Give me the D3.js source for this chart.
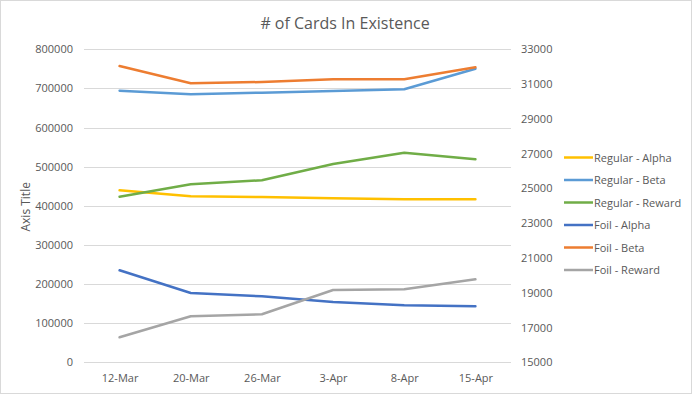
<!DOCTYPE html>
<html>
<head>
<meta charset="utf-8">
<script src="https://cdn.jsdelivr.net/npm/d3@7"></script>
<style>
  body { margin: 0; background: #fff; }
  svg { display: block; font-family: "Open Sans", "Liberation Sans", sans-serif; }
</style>
</head>
<body>
<div id="chart"></div>
<script>
// Data
const dates = ['12-Mar', '20-Mar', '26-Mar', '3-Apr', '8-Apr', '15-Apr'];
const leftTicks = [0, 100000, 200000, 300000, 400000, 500000, 600000, 700000, 800000];
const rightTicks = [15000, 17000, 19000, 21000, 23000, 25000, 27000, 29000, 31000, 33000];

// primary axis (left)
const regularAlpha = [439600, 424300, 422500, 419200, 416600, 416600];
const regularBeta = [694200, 685000, 689100, 693400, 697800, 750400];
const regularReward = [423300, 455000, 465200, 506800, 535700, 518800];
// secondary axis (right)
const foilAlpha = [20290, 18985, 18796, 18468, 18278, 18220];
const foilBeta = [32040, 31045, 31120, 31275, 31275, 31965];
const foilReward = [16438, 17645, 17760, 19158, 19198, 19773];

const seriesNames = ['Regular - Alpha', 'Regular - Beta', 'Regular - Reward', 'Foil - Alpha', 'Foil - Beta', 'Foil - Reward'];
const seriesColors = ['#FFC000', '#5B9BD5', '#70AD47', '#4472C4', '#ED7D31', '#A5A5A5'];

const W = 692, H = 394;
const plot = { left: 84, right: 511, top: 49.3, bottom: 362.3 };

const svg = d3.select('#chart').append('svg')
  .attr('width', W)
  .attr('height', H);

// chart border
svg.append('rect')
  .attr('x', 0.5).attr('y', 0.5)
  .attr('width', W - 1).attr('height', H - 1)
  .attr('fill', '#fff')
  .attr('stroke', '#d9d9d9');

// Scales
const x = d3.scalePoint()
  .domain(dates)
  .range([plot.left, plot.right])
  .padding(0.5);

const yLeft = d3.scaleLinear()
  .domain([0, 800000])
  .range([plot.bottom, plot.top]);

const yRight = d3.scaleLinear()
  .domain([15000, 33000])
  .range([plot.bottom, plot.top]);

// Title
svg.append('text')
  .attr('x', 345)
  .attr('y', 29)
  .attr('text-anchor', 'middle')
  .style('font-size', '16px')
  .style('fill', '#595959')
  .text('# of Cards In Existence');

// Gridlines
svg.append('g')
  .selectAll('line')
  .data(leftTicks)
  .enter()
  .append('line')
  .attr('x1', plot.left)
  .attr('x2', plot.right)
  .attr('y1', d => Math.round(yLeft(d)) + 0.5)
  .attr('y2', d => Math.round(yLeft(d)) + 0.5)
  .attr('stroke', '#d9d9d9')
  .attr('stroke-width', 1);

const tickFont = '"Open Sans", "Liberation Sans", sans-serif';

// Left axis
const leftAxis = svg.append('g')
  .attr('transform', `translate(${plot.left - 11},0)`)
  .call(d3.axisLeft(yLeft).tickValues(leftTicks).tickSize(0).tickFormat(d3.format('d')));
leftAxis.select('.domain').remove();
leftAxis.selectAll('text')
  .attr('x', 0)
  .style('font-size', '11px')
  .style('fill', '#595959')
  .style('font-family', tickFont);

// Right axis
const rightAxis = svg.append('g')
  .attr('transform', `translate(${plot.right + 10},0)`)
  .call(d3.axisRight(yRight).tickValues(rightTicks).tickSize(0).tickFormat(d3.format('d')));
rightAxis.select('.domain').remove();
rightAxis.selectAll('text')
  .attr('x', 0)
  .style('font-size', '11px')
  .style('fill', '#595959')
  .style('font-family', tickFont);

// Bottom axis
const bottomAxis = svg.append('g')
  .attr('transform', `translate(0,${plot.bottom})`)
  .call(d3.axisBottom(x).tickSize(0));
bottomAxis.select('.domain').remove();
bottomAxis.selectAll('text')
  .attr('dy', '1.55em')
  .style('font-size', '11px')
  .style('fill', '#595959')
  .style('font-family', tickFont);

// Axis title
svg.append('text')
  .attr('transform', `translate(30,${(plot.top + plot.bottom) / 2 + 1}) rotate(-90)`)
  .attr('text-anchor', 'middle')
  .style('font-size', '12px')
  .style('fill', '#595959')
  .text('Axis Title');

// Lines
const series = [
  { name: seriesNames[0], values: regularAlpha, y: yLeft },
  { name: seriesNames[1], values: regularBeta, y: yLeft },
  { name: seriesNames[2], values: regularReward, y: yLeft },
  { name: seriesNames[3], values: foilAlpha, y: yRight },
  { name: seriesNames[4], values: foilBeta, y: yRight },
  { name: seriesNames[5], values: foilReward, y: yRight }
];

series.forEach((s, i) => {
  const line = d3.line()
    .x((d, j) => x(dates[j]))
    .y(d => s.y(d));
  svg.append('path')
    .datum(s.values)
    .attr('d', line)
    .attr('fill', 'none')
    .attr('stroke', seriesColors[i])
    .attr('stroke-width', 2.5)
    .attr('stroke-linejoin', 'round')
    .attr('stroke-linecap', 'round');
});

// Legend
const legend = svg.append('g')
  .attr('transform', 'translate(564,157.5)');

const legendItems = legend.selectAll('.legend-item')
  .data(seriesNames)
  .enter()
  .append('g')
  .attr('class', 'legend-item')
  .attr('transform', (d, i) => `translate(0,${i * 22.5})`);

legendItems.append('line')
  .attr('x1', 0)
  .attr('x2', 29)
  .attr('stroke', (d, i) => seriesColors[i])
  .attr('stroke-width', 2.5);

legendItems.append('text')
  .attr('x', 30)
  .attr('y', 4)
  .style('font-size', '11px')
  .style('fill', '#595959')
  .text(d => d);
</script>
</body>
</html>
